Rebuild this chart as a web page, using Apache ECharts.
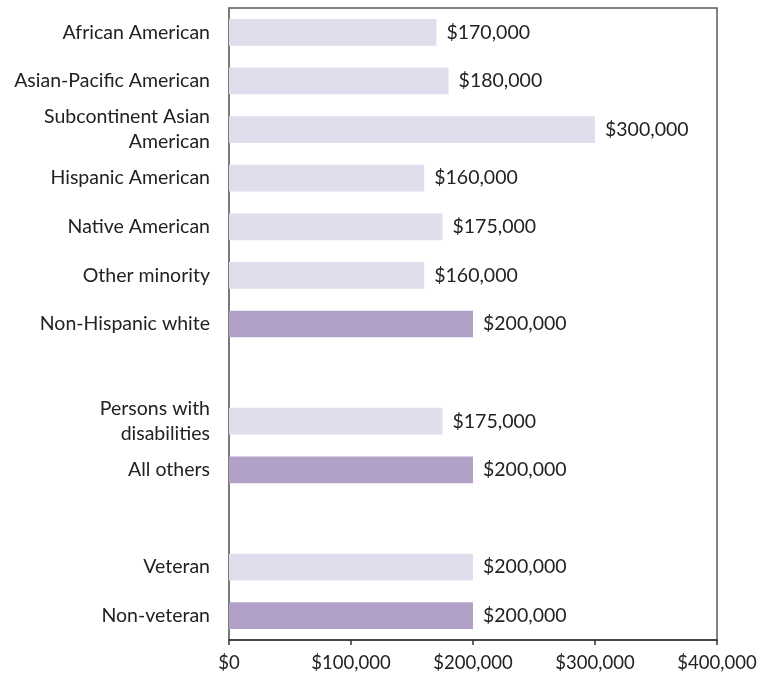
<!DOCTYPE html>
<html>
<head>
<meta charset="utf-8">
<script src="https://cdn.jsdelivr.net/npm/echarts@6/dist/echarts.min.js"></script>
<style>html,body{margin:0;padding:0;background:#fff;}#c{width:762px;height:679px;}</style>
</head>
<body>
<div id="c"></div>
<script>
var categories = ['African American', 'Asian-Pacific American', 'Subcontinent Asian\nAmerican', 'Hispanic American', 'Native American', 'Other minority', 'Non-Hispanic white', '', 'Persons with\ndisabilities', 'All others', '', 'Veteran', 'Non-veteran'];
var values = [170000, 180000, 300000, 160000, 175000, 160000, 200000, null, 175000, 200000, null, 200000, 200000];
var isReference = [false, false, false, false, false, false, true, false, false, true, false, false, true];
var xTicks = [0, 100000, 200000, 300000, 400000];

var LIGHT = '#e1ddec', DARK = '#b1a0c8';
var FONT = 'Lato';
function money(v){ return '$' + v.toLocaleString('en-US'); }

var data = values.map(function(v, i){
  if (v === null) return '-';
  return { value: v, itemStyle: { color: isReference[i] ? DARK : LIGHT } };
});

var chart = echarts.init(document.getElementById('c'));
chart.setOption({
  animation: false,
  grid: { left: 229, right: 45, top: 8, bottom: 39, show: true, borderColor: '#595959', borderWidth: 1.5, containLabel: false },
  xAxis: {
    type: 'value', min: xTicks[0], max: xTicks[xTicks.length-1], interval: 100000,
    axisLine: { show: true, lineStyle: { color: '#333', width: 1.5 } },
    axisTick: { show: true, length: 5, lineStyle: { color: '#333', width: 1.5 } },
    splitLine: { show: false },
    axisLabel: { formatter: money, color: '#222', fontFamily: FONT, fontSize: 18.5, margin: 14 }
  },
  yAxis: {
    type: 'category', data: categories, inverse: true,
    axisLine: { show: true, lineStyle: { color: '#777', width: 1.5 } },
    axisTick: { show: false },
    axisLabel: { color: '#222', fontFamily: FONT, fontSize: 19.5, margin: 19, lineHeight: 25, align: 'right' }
  },
  series: [{
    type: 'bar', data: data, barCategoryGap: '45%',
    label: { show: true, position: 'right', distance: 10, formatter: function(p){ return money(p.value); }, color: '#222', fontFamily: FONT, fontSize: 19.5 }
  }]
});
</script>
</body>
</html>
